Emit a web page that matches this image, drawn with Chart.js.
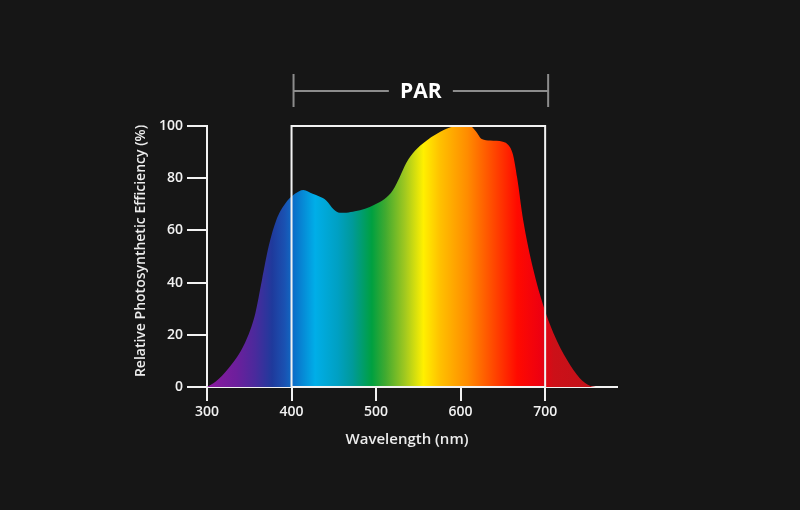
<!DOCTYPE html>
<html>
<head>
<meta charset="utf-8">
<script src="https://cdn.jsdelivr.net/npm/chart.js@4.4.1/dist/chart.umd.min.js"></script>
<style>
  html, body { margin: 0; padding: 0; background: #161616; }
  #wrap { width: 800px; height: 510px; }
</style>
</head>
<body>
<div id="wrap"><canvas id="parChart" width="800" height="510"></canvas></div>
<script>
// Relative photosynthetic efficiency
const wavelengths = [300, 310, 325, 345, 357, 365, 373, 382, 392, 404, 414, 425, 433, 441, 450, 457, 465, 475, 487, 498, 510, 520, 528, 536, 546, 558, 572, 588, 600, 611, 618, 625, 635, 650, 657, 662, 667, 674, 686, 698, 710, 726, 741, 753, 760];
const efficiency  = [0, 2, 7, 17, 28, 41, 54, 64, 70, 74, 75.5, 74, 73, 71.5, 68, 66.8, 66.8, 67.3, 68.3, 69.8, 72, 75.5, 80.5, 86, 90.5, 94, 97, 99.5, 100, 100, 98, 95, 94.4, 94, 92.5, 89, 80, 64, 45, 31, 20.5, 10.3, 3.4, 0.5, 0];
const xTicks = [300, 400, 500, 600, 700];
const parRange = [400, 700];

// spectrum colours along the wavelength axis
const spectrumNm = [300, 335, 357, 377, 392, 404, 428, 455, 472, 495, 511, 534, 556, 576, 608, 638, 667, 694, 710, 760];
const spectrumColors = ['#8c1a9e', '#6c1f9c', '#4a2a9c', '#1f3a9c', '#1a52b2', '#0a72ca', '#00aee8', '#00a0c2', '#009a9a', '#00a040', '#40aa30', '#a0c820', '#fff000', '#ffc000', '#ff8c00', '#ff4a00', '#ff0a00', '#ee0010', '#cc1018', '#c0121a'];

const font = 'Open Sans';

function spectrumFill(context) {
  const chart = context.chart;
  const area = chart.chartArea;
  if (!area) return null;
  const x = chart.scales.x;
  const x0 = x.getPixelForValue(spectrumNm[0]);
  const x1 = x.getPixelForValue(spectrumNm[spectrumNm.length - 1]);
  const g = chart.ctx.createLinearGradient(x0, 0, x1, 0);
  spectrumNm.forEach((nm, i) => {
    g.addColorStop((nm - spectrumNm[0]) / (spectrumNm[spectrumNm.length - 1] - spectrumNm[0]), spectrumColors[i]);
  });
  return g;
}

const parOverlay = {
  id: 'parOverlay',
  afterDatasetsDraw(chart) {
    const { ctx, scales } = chart;
    const l = scales.x.getPixelForValue(parRange[0]);
    const r = scales.x.getPixelForValue(parRange[1]);
    const t = scales.y.getPixelForValue(100);
    const b = scales.y.getPixelForValue(0);
    ctx.save();
    ctx.strokeStyle = '#f2f2f2';
    ctx.lineWidth = 2;
    ctx.strokeRect(l, t, r - l, b - t);
    ctx.restore();
  },
  afterDraw(chart) {
    const { ctx, scales, chartArea } = chart;
    const yb = scales.y.getPixelForValue(0);
    ctx.save();
    // x axis runs a little past the y axis on the left
    ctx.strokeStyle = '#f2f2f2';
    ctx.lineWidth = 2;
    ctx.beginPath();
    ctx.moveTo(scales.x.getPixelForValue(282), yb);
    ctx.lineTo(chartArea.left, yb);
    ctx.stroke();

    // PAR bracket
    const l = scales.x.getPixelForValue(parRange[0]) + 2;
    const r = scales.x.getPixelForValue(parRange[1]) + 3;
    const mid = (l + r) / 2;
    const by = 91;
    ctx.strokeStyle = '#8c8c8c';
    ctx.lineWidth = 2;
    ctx.beginPath();
    ctx.moveTo(l, 74); ctx.lineTo(l, 107);
    ctx.moveTo(r, 74); ctx.lineTo(r, 107);
    ctx.moveTo(l, by); ctx.lineTo(mid - 32, by);
    ctx.moveTo(mid + 32, by); ctx.lineTo(r, by);
    ctx.stroke();
    ctx.fillStyle = '#ffffff';
    ctx.font = `700 21px "${font}"`;
    ctx.textAlign = 'center';
    ctx.textBaseline = 'middle';
    ctx.fillText('PAR', mid, by + 1);

    // axis titles
    ctx.fillStyle = '#ececec';
    ctx.font = `600 15px "${font}"`;
    ctx.fillText('Wavelength (nm)', 407, 440);
    ctx.translate(141, 251);
    ctx.rotate(-Math.PI / 2);
    ctx.font = `600 14px "${font}"`;
    ctx.fillText('Relative Photosynthetic Efficiency (%)', 0, 0);
    ctx.restore();
  }
};

const ctx = document.getElementById('parChart').getContext('2d');
new Chart(ctx, {
  type: 'line',
  data: {
    datasets: [{
      data: wavelengths.map((w, i) => ({ x: w, y: efficiency[i] })),
      fill: 'origin',
      backgroundColor: spectrumFill,
      borderWidth: 0,
      pointRadius: 0,
      cubicInterpolationMode: 'monotone'
    }]
  },
  options: {
    responsive: false,
    devicePixelRatio: 1,
    animation: false,
    layout: { padding: { left: 0, top: 126, right: 183, bottom: 0 } },
    scales: {
      x: {
        type: 'linear',
        min: 300,
        max: 785,
        z: 1,
        afterBuildTicks: scale => { scale.ticks = xTicks.map(v => ({ value: v })); },
        afterFit: scale => { scale.height = 123; },
        grid: { drawOnChartArea: false, color: '#f2f2f2', lineWidth: 2, tickLength: 14 },
        border: { color: '#f2f2f2', width: 2 },
        ticks: { color: '#f2f2f2', padding: 3, font: { family: font, size: 14, weight: '600' } }
      },
      y: {
        min: 0,
        max: 100,
        z: 1,
        afterFit: scale => { scale.width = 207; },
        grid: { drawOnChartArea: false, color: '#f2f2f2', lineWidth: 2, tickLength: 20 },
        border: { color: '#f2f2f2', width: 2 },
        ticks: { stepSize: 20, color: '#f2f2f2', padding: 4, font: { family: font, size: 14, weight: '600' } }
      }
    },
    plugins: {
      legend: { display: false },
      tooltip: { enabled: false }
    }
  },
  plugins: [parOverlay]
});
</script>
</body>
</html>
